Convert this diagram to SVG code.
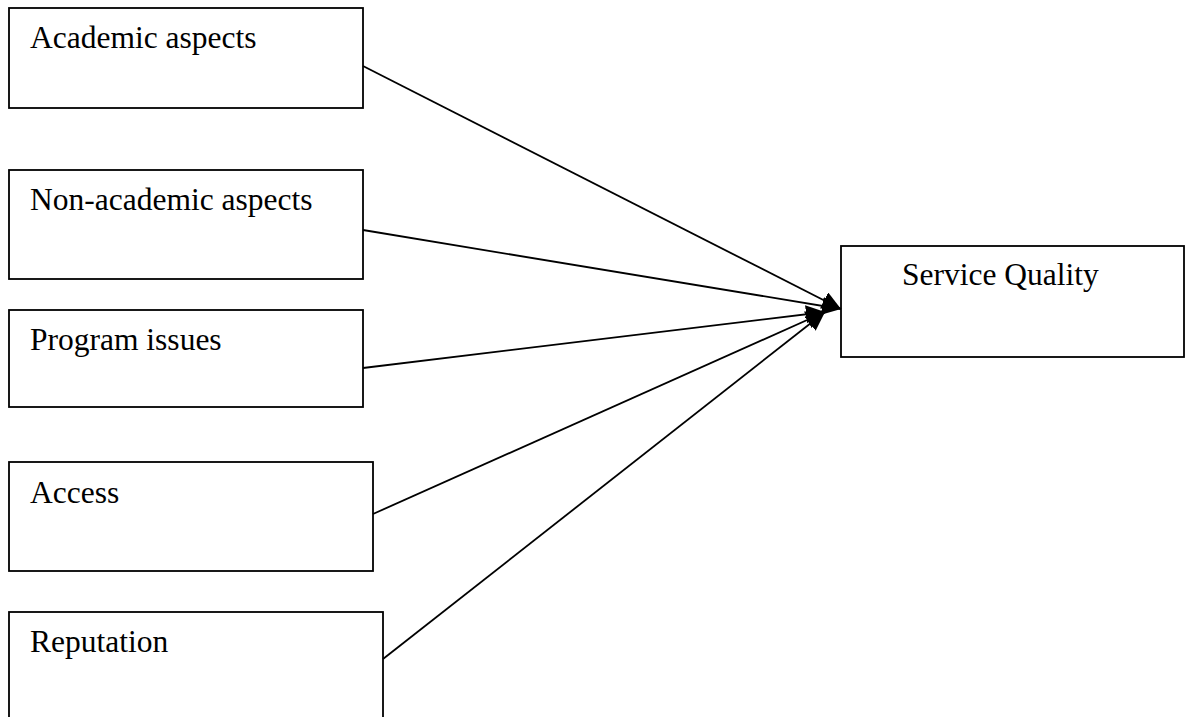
<svg xmlns="http://www.w3.org/2000/svg" width="1185" height="717" viewBox="0 0 1185 717">
  <style>
    .box { fill: #ffffff; stroke: #000000; stroke-width: 1.8; }
    .lbl { font-family: "Liberation Serif", "Times New Roman", serif; font-size: 31.5px; fill: #000000; }
    .conn { stroke: #000000; stroke-width: 1.8; fill: none; marker-end: url(#arrow); }
  </style>
  <defs>
    <marker id="arrow" markerUnits="userSpaceOnUse" markerWidth="20" markerHeight="18" refX="19" refY="9" orient="auto">
      <path d="M0,0 L19,9 L0,18 z" fill="#000000"/>
    </marker>
  </defs>
  <rect width="1185" height="717" fill="#ffffff"/>
  <g id="n-academic">
    <rect class="box" x="9" y="8" width="354" height="100"/>
    <text class="lbl" x="30" y="48">Academic aspects</text>
  </g>
  <g id="n-nonacademic">
    <rect class="box" x="9" y="170" width="354" height="109"/>
    <text class="lbl" x="30" y="210">Non-academic aspects</text>
  </g>
  <g id="n-program">
    <rect class="box" x="9" y="310" width="354" height="97"/>
    <text class="lbl" x="30" y="350">Program issues</text>
  </g>
  <g id="n-access">
    <rect class="box" x="9" y="462" width="364" height="109"/>
    <text class="lbl" x="30" y="503">Access</text>
  </g>
  <g id="n-reputation">
    <rect class="box" x="9" y="612" width="374" height="120"/>
    <text class="lbl" x="30" y="652">Reputation</text>
  </g>
  <g id="n-service">
    <rect class="box" x="841" y="246" width="343" height="111"/>
    <text class="lbl" x="902" y="285">Service Quality</text>
  </g>
  <g id="connectors">
    <line class="conn" x1="363" y1="66" x2="841" y2="309"/>
    <line class="conn" x1="363" y1="230" x2="841" y2="309"/>
    <line class="conn" x1="363" y1="368" x2="825" y2="312"/>
    <line class="conn" x1="373" y1="514" x2="825" y2="312"/>
    <line class="conn" x1="383" y1="659" x2="825" y2="312"/>
  </g>
</svg>
